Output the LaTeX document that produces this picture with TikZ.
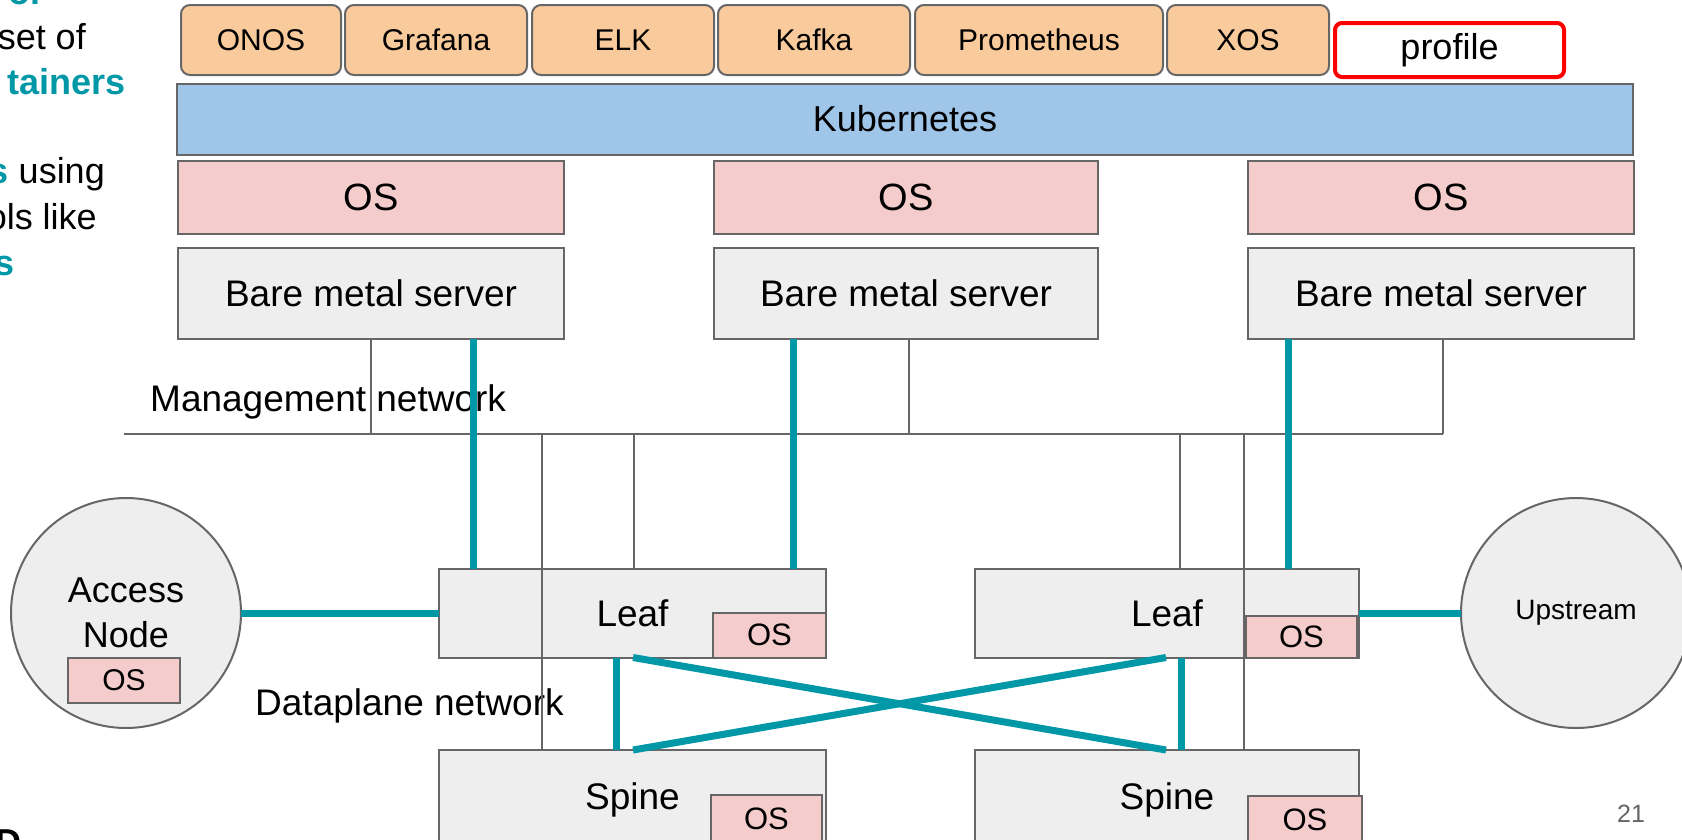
\documentclass[tikz,border=0pt]{standalone}
\usepackage{fontspec}
\setmainfont{Liberation Sans}
\definecolor{tealc}{RGB}{0,151,167}
\definecolor{gline}{RGB}{102,102,102}
\definecolor{appfill}{RGB}{249,203,156}
\definecolor{kfill}{RGB}{159,197,232}
\definecolor{osfill}{RGB}{244,204,204}
\definecolor{gfill}{RGB}{238,238,238}
\definecolor{pgnum}{RGB}{100,100,100}
\newcommand\myfs[1]{\fontsize{#1}{#1}\selectfont}
\tikzset{
  bx/.style={draw=gline, line width=2pt, inner sep=0pt, outer sep=0pt, text=black},
  app/.style={bx, fill=appfill, rounded corners=9pt, minimum height=70pt, font=\myfs{30}},
  kube/.style={bx, fill=kfill, font=\myfs{36}},
  osbig/.style={bx, fill=osfill, minimum height=73pt, font=\myfs{38}},
  bms/.style={bx, fill=gfill, minimum height=91pt, font=\myfs{37}},
  sw/.style={bx, fill=gfill, font=\myfs{37}},
  ossmall/.style={bx, fill=osfill, font=\myfs{31}},
  circ/.style={bx, circle, fill=gfill, minimum size=230pt},
  tl/.style={draw=tealc, line width=7pt},
  ml/.style={draw=gline, line width=1.8pt},
  lbl/.style={inner sep=0pt, font=\myfs{37}, text=black},
  slide/.style={inner sep=0pt, font=\myfs{36}, anchor=base east},
  slideb/.style={slide, text=tealc, font=\myfs{36}\bfseries},
}
\begin{document}
\begin{tikzpicture}[x=1pt,y=-1pt]
\useasboundingbox (0,0) rectangle (1682,839);
\clip (0,0) rectangle (1682,839);
% fragments of slide text at the left edge
\node[slideb] (f0) at (45,4) {or};
\node[slide] (f1) at (86,49) {set of};
\node[slideb] (f2) at (126,94) {tainers};
\node[slide] (f3) at (105,183) {\textcolor{tealc}{\bfseries s} using};
\node[slide] (f4) at (97,229) {ols like};
\node[slideb] (f5) at (15,275) {s};
\node[slide, font=\myfs{36}\bfseries] (f6) at (22,854) {D};
% application containers
\node[app, minimum width=160pt] (onos) at (261,40) {ONOS};
\node[app, minimum width=182pt] (graf) at (436,40) {Grafana};
\node[app, minimum width=182pt] (elk) at (623,40) {ELK};
\node[app, minimum width=192pt] (kafka) at (814,40) {Kafka};
\node[app, minimum width=248pt] (prom) at (1039,40) {Prometheus};
\node[app, minimum width=162pt] (xos) at (1248,40) {XOS};
\node[bx, draw=red, line width=4pt, fill=white, rounded corners=7pt, minimum width=229pt, minimum height=54pt, font=\myfs{36}] (prof) at (1449.5,50) {profile};
% kubernetes
\node[kube, minimum width=1456pt, minimum height=71pt] (kube) at (905,119) {Kubernetes};
% OS row
\node[osbig, minimum width=386pt] (os1) at (371,197.5) {OS};
\node[osbig, minimum width=384pt] (os2) at (906,197.5) {OS};
\node[osbig, minimum width=386pt] (os3) at (1441,197.5) {OS};
% bare metal
\node[bms, minimum width=386pt] (bm1) at (371,293.5) {Bare metal server};
\node[bms, minimum width=384pt] (bm2) at (906,293.5) {Bare metal server};
\node[bms, minimum width=386pt] (bm3) at (1441,293.5) {Bare metal server};
% labels
\node[lbl, anchor=base west] (mgt) at (150,411) {Management network};
\node[lbl, anchor=base west] (dp) at (255,715) {Dataplane network};
% switches
\node[sw, minimum width=387pt, minimum height=89pt] (leaf1) at (632.5,613) {Leaf};
\node[sw, minimum width=384pt, minimum height=89pt] (leaf2) at (1167,613) {Leaf};
\node[sw, minimum width=387pt, minimum height=100pt] (sp1) at (632.5,800) {Spine};
\node[sw, minimum width=384pt, minimum height=100pt] (sp2) at (1167,800) {Spine};
\node[ossmall, minimum width=113pt, minimum height=45pt] (los1) at (769.5,635) {OS};
\node[ossmall, minimum width=111pt, minimum height=42pt] (los2) at (1301.5,636.5) {OS};
\node[ossmall, minimum width=111pt, minimum height=48pt] (sos1) at (766.5,819) {OS};
\node[ossmall, minimum width=114pt, minimum height=47pt] (sos2) at (1305,819.5) {OS};
% access node and upstream
\node[circ, font=\fontsize{36}{45}\selectfont, align=center] (acc) at (126,613) {Access\\Node};
\node[ossmall, minimum width=112pt, minimum height=45pt, font=\myfs{30}] (aos) at (124,680.5) {OS};
\node[circ, font=\myfs{28}] (up) at (1576,613) {Upstream};
% page number
\node[inner sep=0pt, font=\myfs{25}, text=pgnum] (pg) at (1631,814) {21};
% management network
\coordinate (mL) at (124,434);
\coordinate (m1) at (371,434);
\coordinate (m2) at (909,434);
\coordinate (m3) at (1443,434);
\coordinate (ma) at (542,434);
\coordinate (mb) at (634,434);
\coordinate (mc) at (1180,434);
\coordinate (md) at (1244,434);
\draw[ml] (mL) -- (m3);
\draw[ml] (bm1.south -| m1) -- (m1);
\draw[ml] (bm2.south -| m2) -- (m2);
\draw[ml] (bm3.south -| m3) -- (m3);
\draw[ml] (ma) -- (sp1.north -| ma);
\draw[ml] (mb) -- (leaf1.north -| mb);
\draw[ml] (mc) -- (leaf2.north -| mc);
\draw[ml] (md) -- (sp2.north -| md);
% dataplane network
\coordinate (ta) at (473,0);
\coordinate (tb) at (793,0);
\coordinate (tc) at (1288,0);
\coordinate (td) at (616,0);
\coordinate (te) at (1181,0);
\coordinate (d1) at (633,0);
\coordinate (d2) at (1166,0);
\draw[tl] (bm1.south -| ta) -- (leaf1.north -| ta);
\draw[tl] (bm2.south -| tb) -- (leaf1.north -| tb);
\draw[tl] (bm3.south -| tc) -- (leaf2.north -| tc);
\draw[tl] (acc.east) -- (leaf1.west);
\draw[tl] (leaf2.east) -- (up.west);
\draw[tl] (leaf1.south -| td) -- (sp1.north -| td);
\draw[tl] (leaf2.south -| te) -- (sp2.north -| te);
\draw[tl] (leaf1.south -| d1) -- (sp2.north -| d2);
\draw[tl] (sp1.north -| d1) -- (leaf2.south -| d2);
\end{tikzpicture}
\end{document}
